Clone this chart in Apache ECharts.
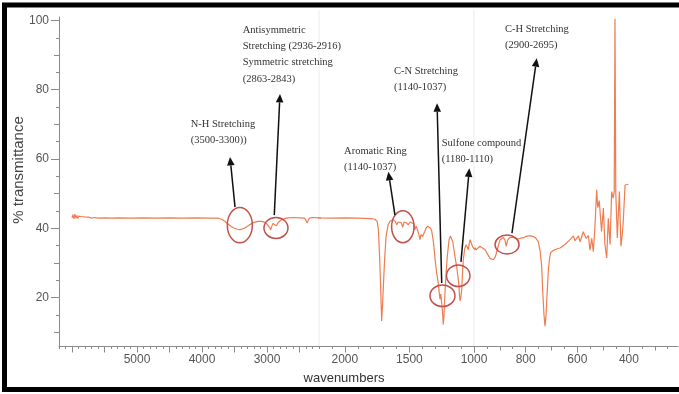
<!DOCTYPE html>
<html><head><meta charset="utf-8">
<script src="https://cdn.jsdelivr.net/npm/echarts@6/dist/echarts.min.js"></script>
<style>html,body{margin:0;padding:0;background:#fff}#c{width:679px;height:394px}</style>
</head><body><div id="c"></div>
<script>
// ---- data ----
const wavenumbers = [
 6000,5985,5970,5955,5940,5925,5910,5895,5880,5860,5840,5810,5780,5740,5700,5650,5600,5500,5400,5300,5100,4900,4700,4500,4300,4100,3900,3750,
 3700,3650,3600,3550,3500,3450,3410,3350,3300,3250,3200,3140,3080,3030,2990,2960,2945,2930,2910,2880,2855,2830,2790,2730,2680,2600,2500,2420,2395,2380,2365,2340,2280,2200,
 2100,2000,1900,1800,1766,1750,1740,1730,1722,1715,1708,1702,1692,1681,1665,1650,1625,1608,1598,1588,1578,1563,1552,1542,1525,1509,1495,1482,1468,1457,1448,1439,1428,1418,1410,1405,1398,1392,1382,1372,1358,1346,1336,1327,1314,1302,1289,1276,1268,1263,1257,1250,1244,1238,1232,1224,1215,1207,1198,1191,1182,1173,1164,1155,1144,1134,1126,1118,1112,1108,1102,1095,1089,1083,1072,1062,1052,1044,1037,1031,1020,1010,1000,
 992,977,957,948,938,925,917,910,899,886,880,875,870,862,848,838,828,818,809,800,790,780,770,760,751,744,738,734,729,725,721,718,712,707,703,693,680,667,648,628,615,609,596,589,577,566,557,551,544,538,532,525,521,518,515,512,506,499,493,486,480,473,467,461,457,454,451,445,437,431,426,422,415,402,400
];
const transmittance = [
 43.0,43.9,42.7,44.1,42.9,43.7,42.8,43.5,43.0,43.4,42.9,43.3,43.0,43.2,42.9,43.1,42.9,43.0,42.9,43.0,42.9,43.0,42.9,43.0,42.9,43.0,42.9,42.9,
 42.6,42.0,41.2,40.5,40.0,39.7,39.6,40.0,40.6,41.2,41.7,42.0,42.0,41.7,41.0,40.2,39.5,40.4,41.4,41.0,40.7,41.6,42.3,42.8,43.0,43.1,43.0,42.9,42.5,41.5,42.4,43.0,43.1,43.0,
 42.9,43.0,42.9,42.8,42.6,42.0,39.6,31.0,22.0,13.2,18.0,23.0,31.0,37.5,41.0,42.0,42.5,41.9,41.0,41.8,42.0,41.6,40.3,41.8,41.6,41.0,41.8,42.0,41.3,39.6,40.6,40.4,38.4,36.7,38.2,38.5,37.6,37.3,39.0,40.0,40.6,40.4,40.0,39.1,36.0,31.3,27.0,24.0,21.0,19.5,21.0,21.0,16.0,12.2,15.0,22.0,27.5,31.8,35.0,37.0,37.8,37.6,36.0,33.8,31.0,29.0,26.5,24.1,20.5,19.0,20.0,22.3,27.0,30.9,34.0,35.2,34.6,33.8,35.5,36.7,35.6,34.6,34.2,
 33.8,34.8,33.8,32.6,31.3,30.9,31.8,33.8,36.7,37.3,36.6,34.8,36.6,37.3,37.4,37.0,36.9,37.2,37.2,37.6,37.8,37.8,37.6,37.1,36.1,33.5,29.0,22.0,15.0,11.7,15.0,19.5,28.0,31.5,33.0,33.6,34.0,34.3,35.3,36.7,37.8,36.4,37.8,36.1,39.0,37.1,37.9,33.7,37.1,33.2,40.0,51.1,46.0,46.8,48.0,47.7,39.1,45.8,35.3,31.4,42.9,35.3,50.6,48.7,50.5,100.5,50.5,37.2,50.6,34.8,38.0,42.0,52.5,52.7,52.6
];
const xLabelsLeft = [5000, 4000, 3000];
const xLabelsMid = [2000, 1500, 1000];
const xLabelsRight = [800, 600, 400];
const yLabels = [20, 40, 60, 80, 100];
const axisBreaks = [2200, 1000];

// annotation texts, anchored in data coordinates [wavenumber, %T] (label anchor = top-left of text block)
const annTexts = [
  ["N-H Stretching", "(3500-3300))"],
  ["Antisymmetric", "Stretching (2936-2916)", "Symmetric stretching", "(2863-2843)"],
  ["Aromatic Ring", "(1140-1037)"],
  ["C-N Stretching", "(1140-1037)"],
  ["Sulfone compound", "(1180-1110)"],
  ["C-H Stretching", "(2900-2695)"]
];
const annLabelAt = [[4174,72.4],[3374,99.6],[2006,64.7],[1619,87.7],[1250,67.0],[880,99.8]];
const annTipAt   = [[3569,60.6],[2800,78.8],[1663,56.3],[1286,76.1],[1036,57.3],[757,89.1]];
const annBaseAt  = [[3492,46.1],[2888,43.8],[1612,43.8],[1250,24.2],[1101,30.3],[853,38.6]];
const annRingAt  = [[3418,40.9],[2862,40.1],[1551,40.45],[1244,20.5],[1122,26.3],[872,35.3]];

// ---- layout / style ----
const ringSize = [[12.5,17.7],[12,10.5],[11.2,16],[12.5,10.8],[11.7,10.8],[12,9.5]];
const Y_MIN = 6, Y_MAX = 101;
const TOP = 17, H = 329;
const AX = '#8a8a8a', LAB = '#555';
const FONT = '"Liberation Sans", Arial, sans-serif';

function range(a, b, step) { const r = []; for (let v = a; step > 0 ? v <= b : v >= b; v += step) r.push(v); return r; }

const grids = [
  {left: 59, top: TOP, width: 260, height: H},
  {left: 319, top: TOP, width: 155, height: H},
  {left: 474, top: TOP, width: 204, height: H}
];
const xr = [[2200, 6200], [1000, 2200], [210, 1000]];

function xAx(g, labels, ticks, len, showLine) {
  return {
    type: 'value', gridIndex: g, position: 'bottom', inverse: true,
    min: xr[g][0], max: xr[g][1],
    axisLine: {show: showLine, onZero: false, lineStyle: {color: AX, width: 1}},
    axisTick: {show: true, customValues: ticks, length: len, lineStyle: {color: AX}},
    axisLabel: labels ? {show: true, customValues: labels, formatter: v => String(v), margin: 8,
      color: LAB, fontSize: 12, fontFamily: FONT, showMinLabel: true, showMaxLabel: true, hideOverlap: false} : {show: false},
    splitLine: {show: false}
  };
}
function yAx(g, labels, ticks, len, showLine, show) {
  return {
    type: 'value', gridIndex: g, position: 'left', min: Y_MIN, max: Y_MAX, show: show,
    axisLine: {show: showLine, onZero: false, lineStyle: {color: AX, width: 1}},
    axisTick: {show: true, customValues: ticks, length: len, lineStyle: {color: AX}},
    axisLabel: labels ? {show: true, customValues: labels, formatter: v => String(v), margin: 10,
      color: LAB, fontSize: 12, fontFamily: FONT} : {show: false},
    splitLine: {show: false}
  };
}

const xAxis = [
  xAx(0, xLabelsLeft, range(6000, 2500, -500), 6.5, true),
  xAx(0, null, range(6200, 2200, -100), 3, false),
  xAx(1, xLabelsMid, [2000, 1500, 1000], 6.5, true),
  xAx(1, null, range(2200, 1000, -100), 3, false),
  xAx(2, xLabelsRight, [1000, 800, 600, 400], 6.5, true),
  xAx(2, null, [900, 700, 500, 300], 4.5, false),
  xAx(2, null, range(950, 250, -100), 3, false)
];
const yAxis = [
  yAx(0, yLabels, yLabels, 8, true, true),
  yAx(0, null, [10, 30, 50, 70, 90], 5, false, true),
  yAx(0, null, range(15, 95, 10), 3, false, true),
  yAx(1, null, [], 0, false, false),
  yAx(2, null, [], 0, false, false)
];

const pts = wavenumbers.map((w, i) => [w, transmittance[i]]);
const LINE = '#EF7D50';
const series = [[0, 0], [2, 3], [4, 4]].map(([xi, yi]) => ({
  type: 'line', xAxisIndex: xi, yAxisIndex: yi, data: pts, showSymbol: false, symbol: 'none',
  clip: true, smooth: false, lineStyle: {color: LINE, width: 1.2}, z: 3, silent: true
}));

const chart = echarts.init(document.getElementById('c'), null, {renderer: 'canvas'});
chart.setOption({animation: false, backgroundColor: '#fff', grid: grids, xAxis, yAxis, series});

function gridOf(w) { return w >= 2200 ? 0 : (w >= 1000 ? 1 : 2); }
function toPx(p) { return chart.convertToPixel({seriesIndex: gridOf(p[0])}, p); }

const g = [];
// axis-break guide lines
axisBreaks.forEach(b => {
  const x = chart.convertToPixel({seriesIndex: 1}, [b, Y_MAX])[0];
  g.push({type: 'line', z: 1, silent: true, shape: {x1: x, y1: 10, x2: x, y2: TOP + H}, style: {stroke: '#ebebeb', lineWidth: 1}});
});
// annotations
annTexts.forEach((lines, i) => {
  const c = toPx(annRingAt[i]);
  g.push({type: 'ellipse', z: 10, silent: true, shape: {cx: c[0], cy: c[1], rx: ringSize[i][0], ry: ringSize[i][1]},
    style: {fill: 'none', stroke: '#C0504D', lineWidth: 1.5}});
  const b = toPx(annBaseAt[i]), t = toPx(annTipAt[i]);
  const dx = t[0] - b[0], dy = t[1] - b[1], L = Math.hypot(dx, dy), ux = dx / L, uy = dy / L;
  const AL = 8.5, AW = 3.8;
  const hx = t[0] - ux * AL, hy = t[1] - uy * AL;
  g.push({type: 'line', z: 11, silent: true, shape: {x1: b[0], y1: b[1], x2: hx, y2: hy}, style: {stroke: '#111', lineWidth: 1.5}});
  g.push({type: 'polygon', z: 11, silent: true, shape: {points: [[t[0], t[1]], [hx - uy * AW, hy + ux * AW], [hx + uy * AW, hy - ux * AW]]}, style: {fill: '#111'}});
  const l = toPx(annLabelAt[i]);
  g.push({type: 'text', z: 12, silent: true, x: l[0], y: l[1],
    style: {text: lines.join('\n'), font: '10.5px "Liberation Serif", "Times New Roman", serif', fill: '#333',
      lineHeight: 16.3, align: 'left', verticalAlign: 'top'}});
});
// axis titles
g.push({type: 'text', z: 12, silent: true, x: 19, y: 170, rotation: Math.PI / 2,
  style: {text: '% transmittance', font: '15px ' + FONT, fill: '#444', align: 'center', verticalAlign: 'middle'}});
g.push({type: 'text', z: 12, silent: true, x: 344, y: 378,
  style: {text: 'wavenumbers', font: '13px ' + FONT, fill: '#333', align: 'center', verticalAlign: 'middle'}});
// picture frame
g.push({type: 'rect', z: 20, silent: true, shape: {x: 4.5, y: 5, width: 690, height: 384.5},
  style: {fill: 'none', stroke: '#000', lineWidth: 5}});

chart.setOption({graphic: g});
</script>
</body></html>
